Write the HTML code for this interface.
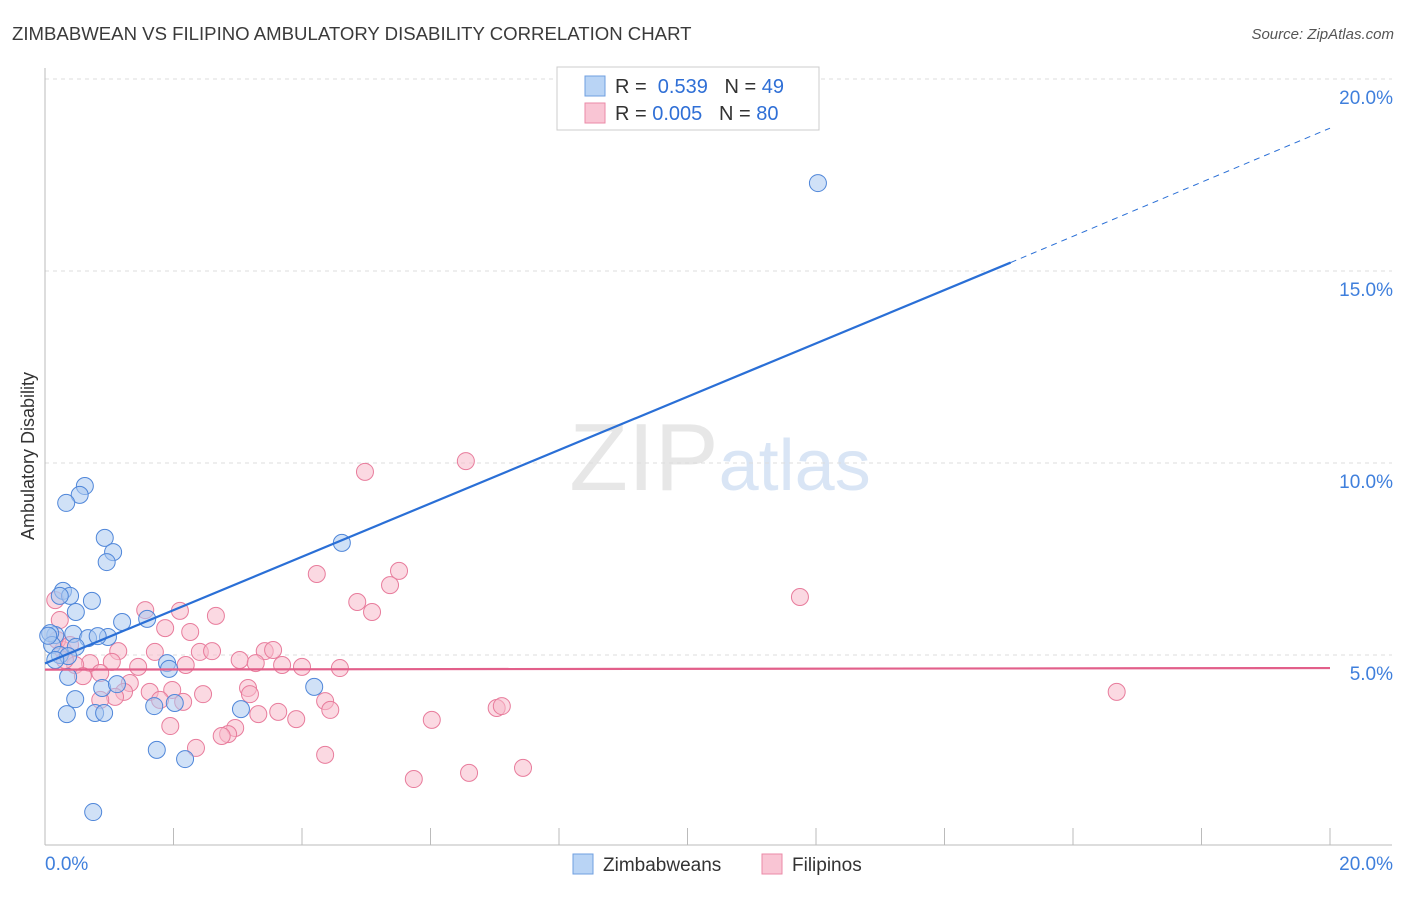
<!DOCTYPE html>
<html><head><meta charset="utf-8"><style>
body{margin:0;background:#fff;font-family:"Liberation Sans",sans-serif}
svg text{font-family:"Liberation Sans",sans-serif}
</style></head><body>
<svg id="chart" width="1406" height="892" xmlns="http://www.w3.org/2000/svg">
<text x="12" y="40" font-size="18.6" fill="#3a3a3a">ZIMBABWEAN VS FILIPINO AMBULATORY DISABILITY CORRELATION CHART</text>
<text x="1394" y="39" font-size="15" fill="#555" text-anchor="end" font-style="italic">Source: ZipAtlas.com</text>
<text x="720" y="490" font-size="96" text-anchor="middle" fill="#ddd" font-family="Liberation Serif" opacity="0.7">ZIP<tspan fill="#c9dbf2" font-family="Liberation Sans" font-size="72">atlas</tspan></text>
<g id="grid"></g><g id="axes"></g><g id="pts"></g><g id="lines"></g>
<text transform="translate(34,456) rotate(-90)" font-size="18" fill="#333" text-anchor="middle">Ambulatory Disability</text>
<g>
<rect x="557" y="67" width="262" height="63" fill="#fff" stroke="#ccc"/>
<rect x="585" y="76" width="20" height="20" fill="#b9d4f5" stroke="#6f9fe0"/>
<rect x="585" y="103" width="20" height="20" fill="#f9c5d4" stroke="#eb8aa7"/>
<text x="615" y="93" font-size="20" fill="#333">R = <tspan fill="#2f6fd6">&#160;0.539</tspan>&#160;&#160;&#160;N = <tspan fill="#2f6fd6">49</tspan></text>
<text x="615" y="120" font-size="20" fill="#333">R = <tspan fill="#2f6fd6">0.005</tspan>&#160;&#160;&#160;N = <tspan fill="#2f6fd6">80</tspan></text>
</g>
<g>
<rect x="573" y="854" width="20" height="20" fill="#b9d4f5" stroke="#6f9fe0"/>
<text x="603" y="871" font-size="19" fill="#333">Zimbabweans</text>
<rect x="762" y="854" width="20" height="20" fill="#f9c5d4" stroke="#eb8aa7"/>
<text x="792" y="871" font-size="19" fill="#333">Filipinos</text>
</g>
</svg>
<script>
const xTicks=[0,20];
const yTicks=[5,10,15,20];
const blueX=[12.03,0.62,0.54,0.33,0.93,1.06,0.96,4.62,0.28,0.39,0.73,0.23,0.48,1.20,1.59,0.44,0.16,0.67,0.98,0.82,0.08,0.11,0.48,0.23,0.36,0.16,1.90,1.93,0.36,0.89,1.12,0.47,0.34,0.78,0.92,1.70,2.02,3.05,4.19,1.74,2.18,0.75,0.05];
const blueY=[17.29,9.40,9.17,8.96,8.05,7.68,7.42,7.92,6.67,6.54,6.41,6.54,6.12,5.86,5.94,5.55,5.52,5.44,5.47,5.49,5.57,5.26,5.21,5.00,4.97,4.87,4.79,4.64,4.43,4.14,4.24,3.85,3.46,3.49,3.49,3.67,3.75,3.59,4.17,2.53,2.29,0.91,5.5];
const pinkX=[6.55,4.98,4.23,5.51,5.37,4.86,5.09,11.75,16.68,1.56,2.10,2.66,1.87,2.26,0.16,0.23,0.28,1.14,1.71,2.41,2.60,3.42,3.55,3.03,3.28,3.69,4.00,4.59,2.19,1.45,1.04,0.70,0.47,0.86,0.59,1.32,1.23,1.63,1.98,2.46,3.16,3.19,1.09,0.86,1.79,2.15,4.36,4.44,3.63,3.32,3.91,6.02,7.03,7.11,1.95,2.96,2.85,2.75,2.35,4.36,5.74,6.60,7.44,0.19,0.31,0.39];
const pinkY=[10.05,9.77,7.11,7.19,6.82,6.38,6.12,6.51,4.04,6.17,6.15,6.02,5.70,5.60,6.43,5.91,5.13,5.10,5.08,5.08,5.10,5.10,5.13,4.87,4.79,4.74,4.69,4.66,4.74,4.69,4.82,4.79,4.74,4.53,4.45,4.27,4.04,4.04,4.09,3.98,4.14,3.98,3.91,3.83,3.83,3.78,3.80,3.57,3.52,3.46,3.33,3.31,3.62,3.67,3.15,3.10,2.94,2.89,2.58,2.40,1.77,1.93,2.06,5.39,4.87,5.26];
const blueLine=[[0,4.78],[15.03,15.22],[20,18.72]];
const pinkLine=[[0,4.62],[20,4.66]];
const NS='http://www.w3.org/2000/svg';
const X=v=>45+v*64.25, Y=v=>847-v*38.4;
function mk(t,a,p){const e=document.createElementNS(NS,t);for(const k in a)e.setAttribute(k,a[k]);document.getElementById(p).appendChild(e);return e;}
yTicks.forEach(t=>{
 const g=mk('line',{x1:45,x2:1392,y1:Y(t),y2:Y(t),stroke:'#ddd','stroke-dasharray':'4,4'},'grid');
 
 
 const l=mk('text',{x:1393,y:Y(t)+25,'font-size':19,fill:'#3f7fdc','text-anchor':'end'},'axes');
 l.textContent=t.toFixed(1)+'%';
 
 
});
const ax=mk('line',{x1:45,x2:45,y1:68,y2:845,stroke:'#bbb'},'axes');


const bx=mk('line',{x1:45,x2:1392,y1:845,y2:845,stroke:'#bbb'},'axes');


for(let i=0;i<=10;i++){const t=mk('line',{x1:X(i*2),x2:X(i*2),y1:828,y2:845,stroke:'#bbb'},'axes');
 
 }
xTicks.forEach((t,i)=>{const l=mk('text',{x:i?1393:45,y:870,'font-size':19,fill:'#3f7fdc','text-anchor':i?'end':'start'},'axes');
 l.textContent=t.toFixed(1)+'%';
 
 });
function pts(xs,ys,fill,stroke,name){xs.forEach((x,i)=>{const c=mk('circle',{cx:X(x),cy:Y(ys[i]),r:8.5,fill:fill,'fill-opacity':0.55,stroke:stroke,'stroke-width':1},'pts');
 
 });}
pts(pinkX,pinkY,'#f7b9cb','#e87c9c','filipino-point');
pts(blueX,blueY,'#a9c9f1','#4f86d9','zimbabwean-point');
const b1=mk('line',{x1:X(blueLine[0][0]),y1:Y(blueLine[0][1]),x2:X(blueLine[1][0]),y2:Y(blueLine[1][1]),stroke:'#2a6fd6','stroke-width':2.2},'lines');


const b2=mk('line',{x1:X(blueLine[1][0]),y1:Y(blueLine[1][1]),x2:X(blueLine[2][0]),y2:Y(blueLine[2][1]),stroke:'#2a6fd6','stroke-width':1,'stroke-dasharray':'6,5'},'lines');


const p1=mk('line',{x1:X(pinkLine[0][0]),y1:Y(pinkLine[0][1]),x2:X(pinkLine[1][0]),y2:Y(pinkLine[1][1]),stroke:'#e25f8a','stroke-width':2.2},'lines');


</script>
</body></html>
